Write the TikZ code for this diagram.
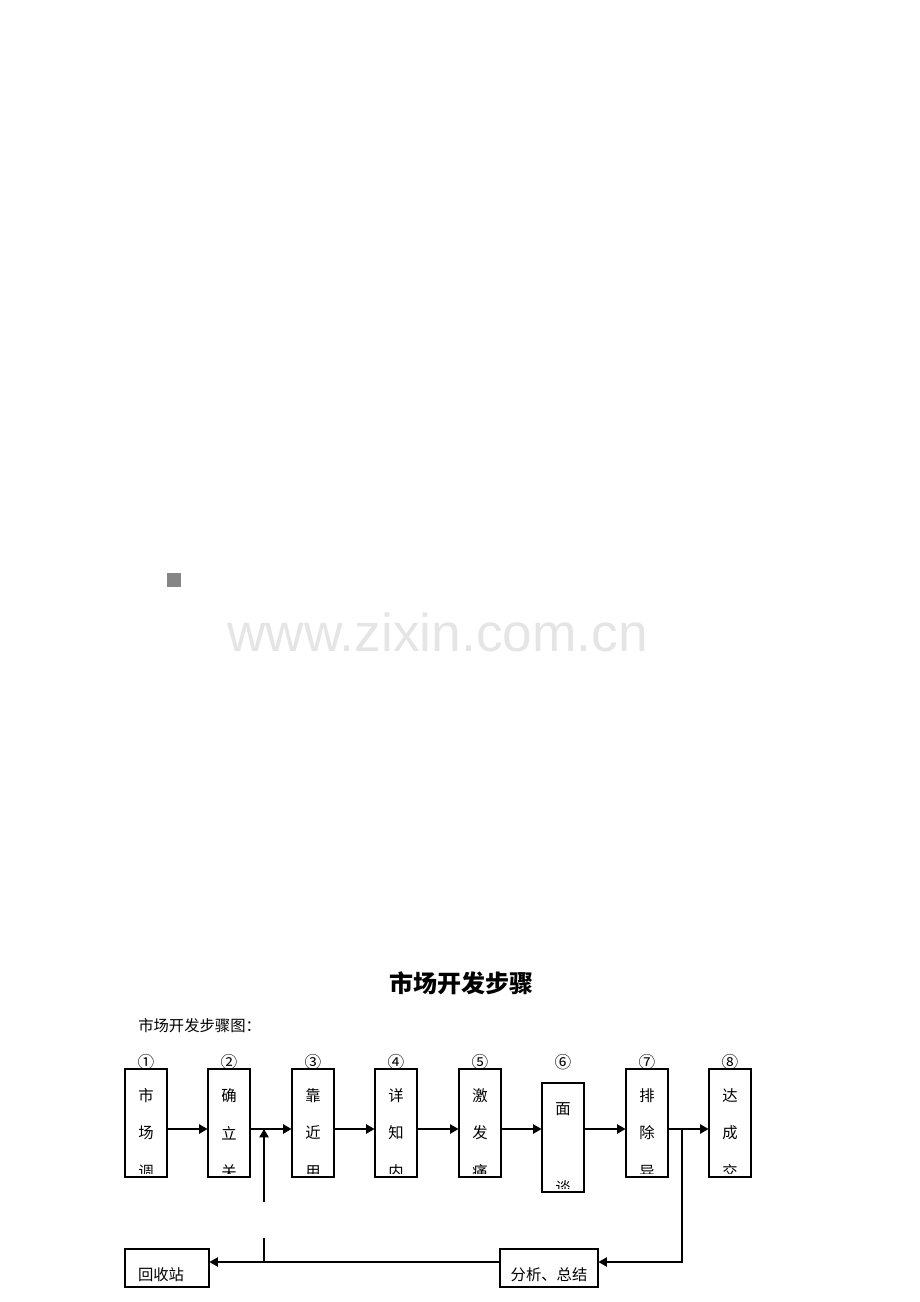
\documentclass[tikz,border=0pt]{standalone}
\usepackage{fontspec}
\usepackage{tikz}
\usetikzlibrary{arrows.meta}
\newfontfamily\cjk{Noto Sans CJK SC}
\newfontfamily\wmfont{Liberation Sans}

\tikzset{
  stepbox/.style={draw, line width=0.8pt, minimum width=31.5pt, minimum height=81pt, inner sep=0pt},
  endbox/.style={draw, line width=0.8pt, minimum height=28.5pt, inner sep=0pt},
  flow/.style={line width=0.8pt, -{Triangle[length=6.2pt,width=7pt]}},
  word/.style={font=\cjk\fontsize{11.5}{13}\selectfont, inner sep=0pt},
  numword/.style={font=\cjk\fontsize{12.5}{14}\selectfont, inner sep=0pt},
}

\begin{document}
\begin{tikzpicture}[x=0.75pt,y=-0.75pt]
\useasboundingbox (0,0) rectangle (920,1302);

% mark and watermark
\fill[black!48] (167,573) rectangle (181,587);
\node[anchor=base west, inner sep=0pt, text=black!10, font=\wmfont\fontsize{40}{48}\selectfont] (wm) at (227,651) {www.zixin.com.cn};

% headings
\node[font=\cjk\bfseries\fontsize{18}{22}\selectfont, inner sep=0pt] (title) at (461,983) {市场开发步骤};
\node[word, anchor=west] (sub) at (138,1026) {市场开发步骤图：};

\coordinate (lane) at (0,1129);
\coordinate (back) at (0,1262);

% steps
\foreach \n/\x/\a/\b/\c/\num in {1/146/市/场/调/①, 2/229/确/立/关/②, 3/313/靠/近/用/③, 4/396/详/知/内/④, 5/480/激/发/痛/⑤, 7/647/排/除/异/⑦, 8/730/达/成/交/⑧}{
  \node[stepbox] (s\n) at (\x,1123) {};
  \node[numword] (n\n) at (\x,1062) {\num};
  \begin{scope}
    \clip ([yshift=3pt]s\n.south west) rectangle (s\n.north east);
    \node[word] at (\x,1096) {\a};
    \node[word] at (\x,1133) {\b};
    \node[word] at (\x,1172) {\c};
  \end{scope}
}

\node[stepbox, minimum height=81.75pt] (s6) at (563,1137.5) {};
\node[numword] (n6) at (563,1062) {⑥};
\begin{scope}
  \clip ([yshift=3pt]s6.south west) rectangle (s6.north east);
  \node[word] at (563,1109) {面};
  \node[word] at (563,1188) {谈};
\end{scope}

\node[endbox, minimum width=63pt] (hs) at (167,1268) {};
\node[word] at (161,1275) {回收站};
\node[endbox, minimum width=73.5pt] (fx) at (549,1268) {};
\node[word] at (549,1275) {分析、总结};

% arrows
\foreach \a/\b in {1/2,2/3,3/4,4/5,5/6,6/7,7/8}
  \draw[flow] (s\a.east |- lane) -- (s\b.west |- lane);

\coordinate (j2) at (264,1129);
\coordinate (up) at (264,1202);
\coordinate (low) at (264,1238);
\coordinate (j7) at (682,1129);

\draw[flow] (up) -- (j2);
\draw[line width=0.8pt] (low) -- (low |- back);
\draw[flow] (fx.west |- back) -- (hs.east |- back);
\draw[flow] (j7) |- (fx.east |- back);
\end{tikzpicture}
\end{document}
